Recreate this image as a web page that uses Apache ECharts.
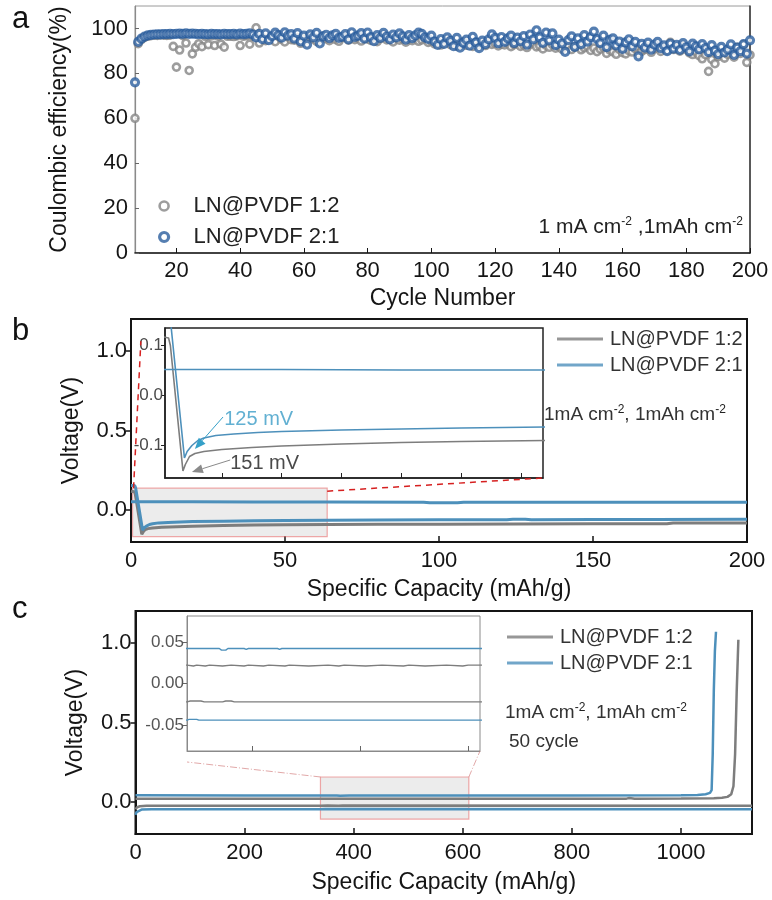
<!DOCTYPE html>
<html>
<head>
<meta charset="utf-8">
<script src="https://cdn.jsdelivr.net/npm/echarts@6/dist/echarts.min.js"></script>
<style>
  html, body { margin: 0; padding: 0; background: #fff; }
  #chart { width: 772px; height: 900px; }
</style>
</head>
<body>
<div id="chart"></div>
<script>
// ---------- series names ----------
const S12 = 'LN@PVDF 1:2';
const S21 = 'LN@PVDF 2:1';

// ---------- panel a: Coulombic efficiency (%) per cycle, cycles 7..200 ----------
const firstCycle = 7;
const ceRatio12 = [
  60, 93.2, 95.0, 96.0, 96.5, 96.8, 97.0, 96.9, 97.1, 97.0,
  96.9, 97.0, 92.0, 82.8, 90.4, 96.8, 93.5, 81.3, 88.7, 91.6,
  93.2, 91.9, 96.5, 92.8, 96.7, 92.4, 96.6, 93.0, 91.7, 96.5,
  96.6, 96.4, 96.7, 92.4, 96.5, 96.8, 93.0, 96.6, 100.3, 93.5,
  96.0, 94.6, 95.8, 96.3, 94.1, 96.5, 95.2, 94.0, 96.3, 95.0,
  94.8, 96.0, 93.4, 95.6, 94.9, 96.1, 95.3, 94.2, 95.8, 96.5,
  95.4, 94.6, 96.2, 95.0, 94.3, 95.9, 96.3, 94.8, 95.6, 95.0,
  95.8, 94.4, 96.0, 95.3, 94.7, 95.9, 94.1, 95.5, 96.2, 94.9,
  95.2, 94.0, 95.7, 94.8, 95.4, 93.9, 95.1, 94.6, 95.8, 94.3,
  94.9, 95.5, 93.8, 94.4, 93.1, 94.0, 92.6, 93.5, 94.2, 92.8,
  93.4, 92.1, 93.0, 94.1, 92.5, 93.3, 92.0, 93.8, 92.6, 93.1,
  92.4, 93.6, 92.9, 93.4, 92.2, 93.0, 92.7, 93.5, 91.9, 92.8,
  93.2, 92.0, 92.6, 91.5, 92.9, 93.4, 91.8, 92.3, 90.9, 92.5,
  91.6, 92.8, 91.2, 92.0, 90.8, 91.9, 92.4, 90.6, 91.7, 92.2,
  90.5, 91.4, 92.0, 90.2, 91.3, 89.7, 90.8, 91.6, 88.9, 90.4,
  89.6, 88.5, 90.7, 89.2, 88.7, 90.1, 89.5, 91.0, 88.9, 89.8,
  90.6, 91.8, 89.4, 90.9, 92.0, 89.8, 91.3, 90.2, 93.8, 90.6,
  91.5, 89.9, 92.2, 90.7, 89.1, 88.4, 89.6, 87.9, 86.5, 88.3,
  80.9, 86.2, 84.3, 87.5, 89.0, 86.8, 88.5, 90.4, 87.2, 91.6,
  88.9, 92.8, 84.9, 88.2
];
const ceRatio21 = [
  76, 94, 95.5, 96.4, 96.9, 97.1, 97.3, 97.4, 97.4, 97.5,
  97.5, 97.6, 97.5, 97.6, 97.7, 97.6, 97.8, 97.6, 97.7, 97.6,
  97.5, 97.6, 97.5, 97.4, 97.6, 97.5, 97.5, 97.4, 97.6, 97.5,
  97.5, 97.6, 97.4, 97.7, 97.5, 97.6, 97.8, 97.3, 96.0, 97.6,
  95.2, 97.8, 94.8, 96.6, 98.1, 97.0, 95.9, 98.3, 96.8, 97.5,
  95.5, 97.9, 94.2, 96.8, 92.8, 97.4, 96.0, 98.0, 93.3, 96.5,
  97.2, 95.7, 96.9, 97.6, 95.8, 96.3, 97.5, 95.1, 98.3, 96.2,
  96.8, 97.9, 95.5, 98.2, 96.1, 94.3, 97.0, 95.8, 98.0, 96.4,
  95.1, 97.3, 96.0, 97.8, 96.5, 95.0, 97.0, 95.7, 96.9, 98.1,
  97.6, 96.0, 95.4, 96.8, 94.2, 92.7, 95.3, 93.1, 96.0, 94.5,
  92.1, 95.8, 91.4, 93.6, 95.0, 92.3, 96.3, 93.8, 91.2, 94.6,
  93.0, 95.1, 97.4, 95.8, 93.4, 96.2, 94.0, 95.6, 96.8, 93.5,
  95.9, 94.3, 96.6, 92.8, 97.3, 95.1, 99.2, 96.0, 93.6, 98.2,
  94.7, 97.8, 92.6, 95.0, 93.3, 89.6, 94.8, 96.5, 91.8, 95.6,
  93.0, 97.0, 94.1, 96.1, 98.6, 95.3, 93.5, 96.8, 91.7, 94.9,
  95.6, 92.4, 94.2, 90.9, 93.8, 95.2, 92.0, 94.0, 87.6, 93.1,
  91.5, 93.7, 90.6, 92.8, 94.0, 91.2, 92.5, 89.9, 93.3, 91.0,
  92.7, 90.4, 93.5, 91.6, 89.8, 93.2, 92.0, 90.7, 93.0, 91.3,
  89.5, 92.6, 90.1, 88.6, 91.8, 89.3, 90.6, 92.9, 88.2, 91.5,
  89.9, 93.0, 88.8, 94.7
];
const cycleTicks = [20, 40, 60, 80, 100, 120, 140, 160, 180, 200];
const ceTicks = [0, 20, 40, 60, 80, 100];

// ---------- panel b: first-cycle voltage (V) vs specific capacity (mAh/g) ----------
const plateB12 = [
  [0, 0.118], [1.1, 0.115], [1.4, 0.10], [3.5, -0.151], [3.9, -0.138], [4.6, -0.122],
  [5.5, -0.116], [7, -0.112], [10, -0.108], [15, -0.104], [20, -0.101], [30, -0.097],
  [40, -0.094], [50, -0.092], [64, -0.090], [80, -0.089], [100, -0.088], [125, -0.087],
  [150, -0.086], [174, -0.086], [176, -0.081], [200, -0.080]
];
const plateB21 = [
  [0, 0.155], [1.2, 0.155], [1.5, 0.14], [3.75, -0.125], [4.2, -0.112], [5, -0.100],
  [6, -0.090], [7, -0.085], [9, -0.080], [12, -0.077], [16, -0.074], [20, -0.072],
  [30, -0.069], [40, -0.067], [50, -0.065], [64, -0.063], [80, -0.062], [100, -0.061],
  [122, -0.061], [124, -0.057], [128, -0.057], [130, -0.061], [150, -0.059], [170, -0.058], [200, -0.057]
];
const stripB21 = [
  [0, 0.052], [20, 0.052], [40, 0.051], [64, 0.051], [95, 0.050], [97, 0.046],
  [106, 0.046], [108, 0.050], [150, 0.050], [200, 0.049]
];
const voltTicks = [0, 0.5, 1.0];
const insetTicksB = [-0.1, 0, 0.1];
const insetCapTicksB = [10, 20, 30, 40, 50, 60];

// ---------- panel c: 50th-cycle voltage (V) vs specific capacity (mAh/g) ----------
const stripC12 = [
  [0, 0.021], [30, 0.022], [120, 0.022], [339, 0.022], [345, 0.021], [348, 0.022],
  [356, 0.021], [360, 0.022], [372, 0.021], [380, 0.022], [392, 0.021], [396, 0.022],
  [410, 0.021], [415, 0.022], [430, 0.021], [434, 0.022], [452, 0.021], [470, 0.022],
  [480, 0.021], [485, 0.022], [505, 0.021], [520, 0.022], [540, 0.021], [545, 0.022],
  [560, 0.021], [580, 0.022], [595, 0.021], [600, 0.022], [900, 0.022], [905, 0.026],
  [915, 0.022], [1000, 0.023], [1060, 0.024], [1075, 0.027], [1085, 0.033], [1092, 0.05],
  [1096, 0.10], [1099, 0.30], [1102, 0.70], [1105, 1.02]
];
const stripC21 = [
  [0, 0.043], [200, 0.042], [339, 0.042], [369, 0.042], [371, 0.040], [375, 0.040],
  [377, 0.042], [392, 0.042], [394, 0.041], [396, 0.042], [423, 0.042], [425, 0.041],
  [427, 0.042], [800, 0.042], [1000, 0.043], [1030, 0.045], [1045, 0.050], [1053, 0.058],
  [1056, 0.075], [1058, 0.30], [1060, 0.70], [1062, 0.95], [1064, 1.07]
];
const plateC12 = [
  [0, -0.045], [3, -0.032], [8, -0.026], [20, -0.023], [40, -0.022], [339, -0.022],
  [342, -0.021], [352, -0.021], [355, -0.022], [372, -0.022], [375, -0.021], [380, -0.021],
  [383, -0.022], [1130, -0.022]
];
const plateC21 = [
  [0, -0.080], [2, -0.062], [5, -0.050], [12, -0.046], [30, -0.044], [339, -0.044],
  [341, -0.043], [348, -0.043], [350, -0.044], [1130, -0.044]
];
const capTicksC = [0, 200, 400, 600, 800, 1000];
const insetTicksC = [-0.05, 0, 0.05];
const insetCapTicksC = [400, 500, 600];

// zoom windows marked on the main plots and shown enlarged in the insets
const zoomB = { x0: 0.5, x1: 63.7, y0: -0.166, y1: 0.138 };
const zoomC = { x0: 339, x1: 611, y0: -0.106, y1: 0.158 };
const insetRangeB = { min: -0.165, max: 0.135 };
const insetRangeC = { min: -0.081, max: 0.081 };

// ---------- styling ----------
const FONT = '"Liberation Sans", Arial, Helvetica, sans-serif';
const GRAY = '#7d7d7d';
const BLUE = '#4d90bb';
const A_GRAY = '#858585';
const A_BLUE = '#2b5e9e';
const INK = '#151515';

const chart = echarts.init(document.getElementById('chart'), null, { renderer: 'canvas' });

function axisBase(extra) {
  return Object.assign({
    type: 'value',
    splitLine: { show: false },
    axisLine: { show: true, onZero: false, lineStyle: { color: INK, width: 1.5 } },
    axisLabel: { color: INK, fontFamily: FONT, fontSize: 22 },
    nameTextStyle: { color: INK, fontFamily: FONT, fontSize: 23 },
    nameLocation: 'middle'
  }, extra);
}

function lineSeries(name, data, color, width, xi, yi) {
  return {
    type: 'line', name, data, xAxisIndex: xi, yAxisIndex: yi,
    symbol: 'none', showSymbol: false, clip: true, z: 3,
    lineStyle: { color, width }, itemStyle: { color }
  };
}

const cePairs12 = ceRatio12.map((v, i) => [firstCycle + i, v]);
const cePairs21 = ceRatio21.map((v, i) => [firstCycle + i, v]);

// hollow ring markers: white fill, coloured thick outline
const ringGray = { color: '#fff', borderColor: A_GRAY, borderWidth: 2.6 };
const ringBlue = { color: '#fff', borderColor: A_BLUE, borderWidth: 3.2 };

const option = {
  animation: false,
  backgroundColor: '#fff',
  textStyle: { fontFamily: FONT },
  grid: [
    { left: 135, top: 6, width: 615, height: 247, show: true, borderColor: '#9a9a9a', borderWidth: 1 },
    { left: 131, top: 319, width: 616, height: 223, show: true, borderColor: INK, borderWidth: 2 },
    { left: 165, top: 328, width: 378, height: 150, show: true, backgroundColor: '#fff', borderColor: '#222', borderWidth: 1.5 },
    { left: 135.5, top: 611, width: 616.5, height: 223, show: true, borderColor: INK, borderWidth: 2 },
    { left: 187, top: 616, width: 293, height: 135, show: true, backgroundColor: '#fff', borderColor: '#8a8a8a', borderWidth: 1 }
  ],
  xAxis: [
    axisBase({
      gridIndex: 0, min: firstCycle, max: 200, name: 'Cycle Number', nameGap: 34,
      axisTick: { inside: true, length: 5, customValues: cycleTicks, lineStyle: { color: INK } },
      axisLabel: { color: INK, fontFamily: FONT, fontSize: 22, margin: 7, customValues: cycleTicks }
    }),
    axisBase({
      gridIndex: 1, min: 0, max: 200, interval: 50, name: 'Specific Capacity (mAh/g)', nameGap: 36,
      axisLine: { show: true, onZero: false, lineStyle: { color: INK, width: 2 } },
      axisTick: { inside: true, length: 6, lineStyle: { color: INK, width: 1.5 } },
      axisLabel: { color: INK, fontFamily: FONT, fontSize: 22, margin: 8 }
    }),
    axisBase({
      gridIndex: 2, min: zoomB.x0, max: zoomB.x1,
      axisLine: { show: true, onZero: false, lineStyle: { color: '#222', width: 1.5 } },
      axisTick: { inside: true, length: 5, customValues: insetCapTicksB, lineStyle: { color: '#222' } },
      axisLabel: { show: false }
    }),
    axisBase({
      gridIndex: 3, min: 0, max: 1130, name: 'Specific Capacity (mAh/g)', nameGap: 37,
      axisLine: { show: true, onZero: false, lineStyle: { color: INK, width: 2 } },
      axisTick: { inside: true, length: 6, customValues: capTicksC, lineStyle: { color: INK, width: 1.5 } },
      axisLabel: { color: INK, fontFamily: FONT, fontSize: 22, margin: 8, customValues: capTicksC,
                   formatter: v => String(v) }
    }),
    axisBase({
      gridIndex: 4, min: zoomC.x0, max: zoomC.x1,
      axisLine: { show: true, onZero: false, lineStyle: { color: '#8a8a8a', width: 1 } },
      axisTick: { inside: true, length: 5, customValues: insetCapTicksC, lineStyle: { color: '#666' } },
      axisLabel: { show: false }
    })
  ],
  yAxis: [
    axisBase({
      gridIndex: 0, min: 0, max: 110, name: 'Coulombic efficiency(%)', nameGap: 64,
      axisLine: { show: true, onZero: false, lineStyle: { color: '#8a8a8a', width: 1.2 } },
      axisTick: { inside: true, length: 4, customValues: ceTicks, lineStyle: { color: '#666' } },
      axisLabel: { color: INK, fontFamily: FONT, fontSize: 22, margin: 7, customValues: ceTicks }
    }),
    axisBase({
      gridIndex: 1, min: -0.2, max: 1.2, name: 'Voltage(V)', nameGap: 48,
      axisLine: { show: true, onZero: false, lineStyle: { color: INK, width: 2 } },
      axisTick: { inside: false, length: 5, customValues: voltTicks, lineStyle: { color: INK, width: 1.5 } },
      axisLabel: { color: INK, fontFamily: FONT, fontSize: 22, margin: 4, customValues: voltTicks,
                   formatter: v => v.toFixed(1) }
    }),
    axisBase({
      gridIndex: 2, min: insetRangeB.min, max: insetRangeB.max,
      axisLine: { show: true, onZero: false, lineStyle: { color: '#222', width: 1.5 } },
      axisTick: { inside: false, length: 4, customValues: insetTicksB, lineStyle: { color: '#222' } },
      axisLabel: { color: '#4a4a4a', fontFamily: FONT, fontSize: 17, margin: 2, customValues: insetTicksB,
                   formatter: v => v.toFixed(1) }
    }),
    axisBase({
      gridIndex: 3, min: -0.2, max: 1.2, name: 'Voltage(V)', nameGap: 48,
      axisLine: { show: true, onZero: false, lineStyle: { color: INK, width: 2 } },
      axisTick: { inside: false, length: 5, customValues: voltTicks, lineStyle: { color: INK, width: 1.5 } },
      axisLabel: { color: INK, fontFamily: FONT, fontSize: 22, margin: 4, customValues: voltTicks,
                   formatter: v => v.toFixed(1) }
    }),
    axisBase({
      gridIndex: 4, min: insetRangeC.min, max: insetRangeC.max,
      axisLine: { show: true, onZero: false, lineStyle: { color: '#8a8a8a', width: 1 } },
      axisTick: { inside: false, length: 4, customValues: insetTicksC, lineStyle: { color: '#666' } },
      axisLabel: { color: '#555', fontFamily: FONT, fontSize: 17, margin: 3, customValues: insetTicksC,
                   formatter: v => v.toFixed(2) }
    }),
    // right-hand frame edge of panel a
    axisBase({
      gridIndex: 0, position: 'right', min: 0, max: 110,
      axisLine: { show: true, onZero: false, lineStyle: { color: '#333', width: 1.5 } },
      axisTick: { show: false }, axisLabel: { show: false }
    })
  ],
  legend: [
    {
      orient: 'vertical', left: 153, top: 190, itemWidth: 9, itemHeight: 9, itemGap: 9,
      textStyle: { color: '#222', fontFamily: FONT, fontSize: 22, lineHeight: 22, padding: [0, 0, 0, 20] },
      data: [
        { name: S12, icon: 'circle', itemStyle: ringGray },
        { name: S21, icon: 'circle', itemStyle: ringBlue }
      ]
    },
    {
      orient: 'vertical', left: 552, top: 324, itemWidth: 46, itemHeight: 3, itemGap: 6,
      textStyle: { color: '#333', fontFamily: FONT, fontSize: 20, lineHeight: 20, padding: [0, 0, 0, 2] },
      data: [
        { name: S12, icon: 'rect', itemStyle: { color: GRAY, borderWidth: 0 } },
        { name: S21, icon: 'rect', itemStyle: { color: BLUE, borderWidth: 0 } }
      ]
    },
    {
      orient: 'vertical', left: 502, top: 622, itemWidth: 46, itemHeight: 3, itemGap: 6,
      textStyle: { color: '#333', fontFamily: FONT, fontSize: 20, lineHeight: 20, padding: [0, 0, 0, 2] },
      data: [
        { name: S12, icon: 'rect', itemStyle: { color: GRAY, borderWidth: 0 } },
        { name: S21, icon: 'rect', itemStyle: { color: BLUE, borderWidth: 0 } }
      ]
    }
  ],
  series: [
    {
      type: 'scatter', name: S12, data: cePairs12, xAxisIndex: 0, yAxisIndex: 0,
      symbol: 'circle', symbolSize: 7, clip: false, itemStyle: ringGray
    },
    {
      type: 'scatter', name: S21, data: cePairs21, xAxisIndex: 0, yAxisIndex: 0,
      symbol: 'circle', symbolSize: 7, clip: false, itemStyle: ringBlue
    },
    // panel b main
    lineSeries(S12, plateB12, GRAY, 3, 1, 1),
    lineSeries(S21, plateB21, BLUE, 3, 1, 1),
    lineSeries(S21, stripB21, BLUE, 3, 1, 1),
    {
      type: 'line', name: 'zoom-b', data: [], xAxisIndex: 1, yAxisIndex: 1, z: 6, symbol: 'none',
      markArea: {
        silent: true,
        itemStyle: { color: 'rgba(205,205,205,0.38)', borderColor: 'rgba(230,100,100,0.55)', borderWidth: 1.2 },
        data: [[{ coord: [zoomB.x0, zoomB.y1] }, { coord: [zoomB.x1, zoomB.y0] }]]
      }
    },
    // panel b inset
    lineSeries(S12, plateB12, GRAY, 1.6, 2, 2),
    lineSeries(S21, plateB21, BLUE, 1.6, 2, 2),
    lineSeries(S21, stripB21, BLUE, 1.6, 2, 2),
    // panel c main
    lineSeries(S12, stripC12, GRAY, 2.5, 3, 3),
    lineSeries(S12, plateC12, GRAY, 2.5, 3, 3),
    lineSeries(S21, stripC21, BLUE, 2.5, 3, 3),
    lineSeries(S21, plateC21, BLUE, 2.5, 3, 3),
    {
      type: 'line', name: 'zoom-c', data: [], xAxisIndex: 3, yAxisIndex: 3, z: 6, symbol: 'none',
      markArea: {
        silent: true,
        itemStyle: { color: 'rgba(205,205,205,0.38)', borderColor: 'rgba(230,100,100,0.55)', borderWidth: 1.2 },
        data: [[{ coord: [zoomC.x0, zoomC.y1] }, { coord: [zoomC.x1, zoomC.y0] }]]
      }
    },
    // panel c inset
    lineSeries(S12, stripC12, GRAY, 1.4, 4, 4),
    lineSeries(S12, plateC12, GRAY, 1.4, 4, 4),
    lineSeries(S21, stripC21, BLUE, 1.4, 4, 4),
    lineSeries(S21, plateC21, BLUE, 1.4, 4, 4)
  ]
};

chart.setOption(option);

// ---------- annotations placed from axis coordinates ----------
const toPx = (xi, yi, pt) => chart.convertToPixel({ xAxisIndex: xi, yAxisIndex: yi }, pt);

function segment(a, b, stroke, width, dash) {
  return { type: 'line', z: 20, silent: true,
    shape: { x1: a[0], y1: a[1], x2: b[0], y2: b[1] },
    style: { stroke, lineWidth: width, lineDash: dash } };
}

function arrow(tail, tip, color) {
  const dx = tip[0] - tail[0], dy = tip[1] - tail[1];
  const len = Math.hypot(dx, dy), ux = dx / len, uy = dy / len;
  const hl = 11, hw = 4.5;
  const bx = tip[0] - ux * hl, by = tip[1] - uy * hl;
  return [
    { type: 'line', z: 20, silent: true,
      shape: { x1: tail[0], y1: tail[1], x2: bx, y2: by },
      style: { stroke: color, lineWidth: 1 } },
    { type: 'polygon', z: 20, silent: true,
      shape: { points: [tip, [bx - uy * hw, by + ux * hw], [bx + uy * hw, by - ux * hw]] },
      style: { fill: color } }
  ];
}

const superStyle = { s: { fontSize: 12, fontFamily: FONT, fill: '#222', padding: [0, 0, 11, 0] } };
function label(x, y, text, size, opts) {
  return Object.assign({
    type: 'text', x, y, z: 20, silent: true,
    style: Object.assign({ text, fill: '#222', fontFamily: FONT, fontSize: size,
      verticalAlign: 'middle', align: 'left', rich: superStyle }, opts || {})
  });
}

const bBoxTL = toPx(1, 1, [zoomB.x0, zoomB.y1]);
const bBoxTR = toPx(1, 1, [zoomB.x1, zoomB.y1]);
const bLeftEnd = toPx(1, 1, [3.2, 1.06]);
const bInsetBR = toPx(2, 2, [zoomB.x1, insetRangeB.min]);

const cBoxTL = toPx(3, 3, [zoomC.x0, zoomC.y1]);
const cBoxTR = toPx(3, 3, [zoomC.x1, zoomC.y1]);
const cInsetBL = toPx(4, 4, [zoomC.x0, insetRangeC.min]);
const cInsetBR = toPx(4, 4, [zoomC.x1, insetRangeC.min]);

const blueTail = toPx(2, 2, [10.2, -0.043]);
const blueTip = toPx(2, 2, [5.5, -0.107]);
const grayTail = toPx(2, 2, [11.4, -0.129]);
const grayTip = toPx(2, 2, [5.0, -0.153]);
const lab125 = toPx(2, 2, [10.4, -0.047]);
const lab151 = toPx(2, 2, [11.4, -0.135]);

const graphics = [
  label(12, 19, 'a', 31, { fill: '#111' }),
  label(12, 331, 'b', 31, { fill: '#111' }),
  label(12, 609, 'c', 31, { fill: '#111' }),

  label(743, 227, '1 mA cm{s|-2} ,1mAh cm{s|-2}', 21, { align: 'right' }),
  label(544, 415, '1mA cm{s|-2}, 1mAh cm{s|-2}', 19, { fill: '#333' }),
  label(505, 713, '1mA cm{s|-2}, 1mAh cm{s|-2}', 19, { fill: '#333' }),
  label(509, 742, '50 cycle', 19, { fill: '#333' }),

  segment([bBoxTL[0] + 1, bBoxTL[1]], bLeftEnd, '#d62020', 1.5, [6, 5]),
  segment([bBoxTR[0], bBoxTR[1] + 3], bInsetBR, '#d62020', 1.5, [6, 5]),
  segment(cBoxTL, [cInsetBL[0], cInsetBL[1] + 11], 'rgba(205,110,110,0.6)', 1, [7, 2, 1, 2]),
  segment(cBoxTR, cInsetBR, 'rgba(205,110,110,0.6)', 1, [7, 2, 1, 2]),

  ...arrow(blueTail, blueTip, '#35a0c8'),
  ...arrow(grayTail, grayTip, '#8a8a8a'),
  label(lab125[0], lab125[1], '125 mV', 20, { fill: '#62b0d2' }),
  label(lab151[0], lab151[1], '151 mV', 20, { fill: '#4a4a4a' })
];

chart.setOption({ graphic: graphics });
</script>
</body>
</html>
